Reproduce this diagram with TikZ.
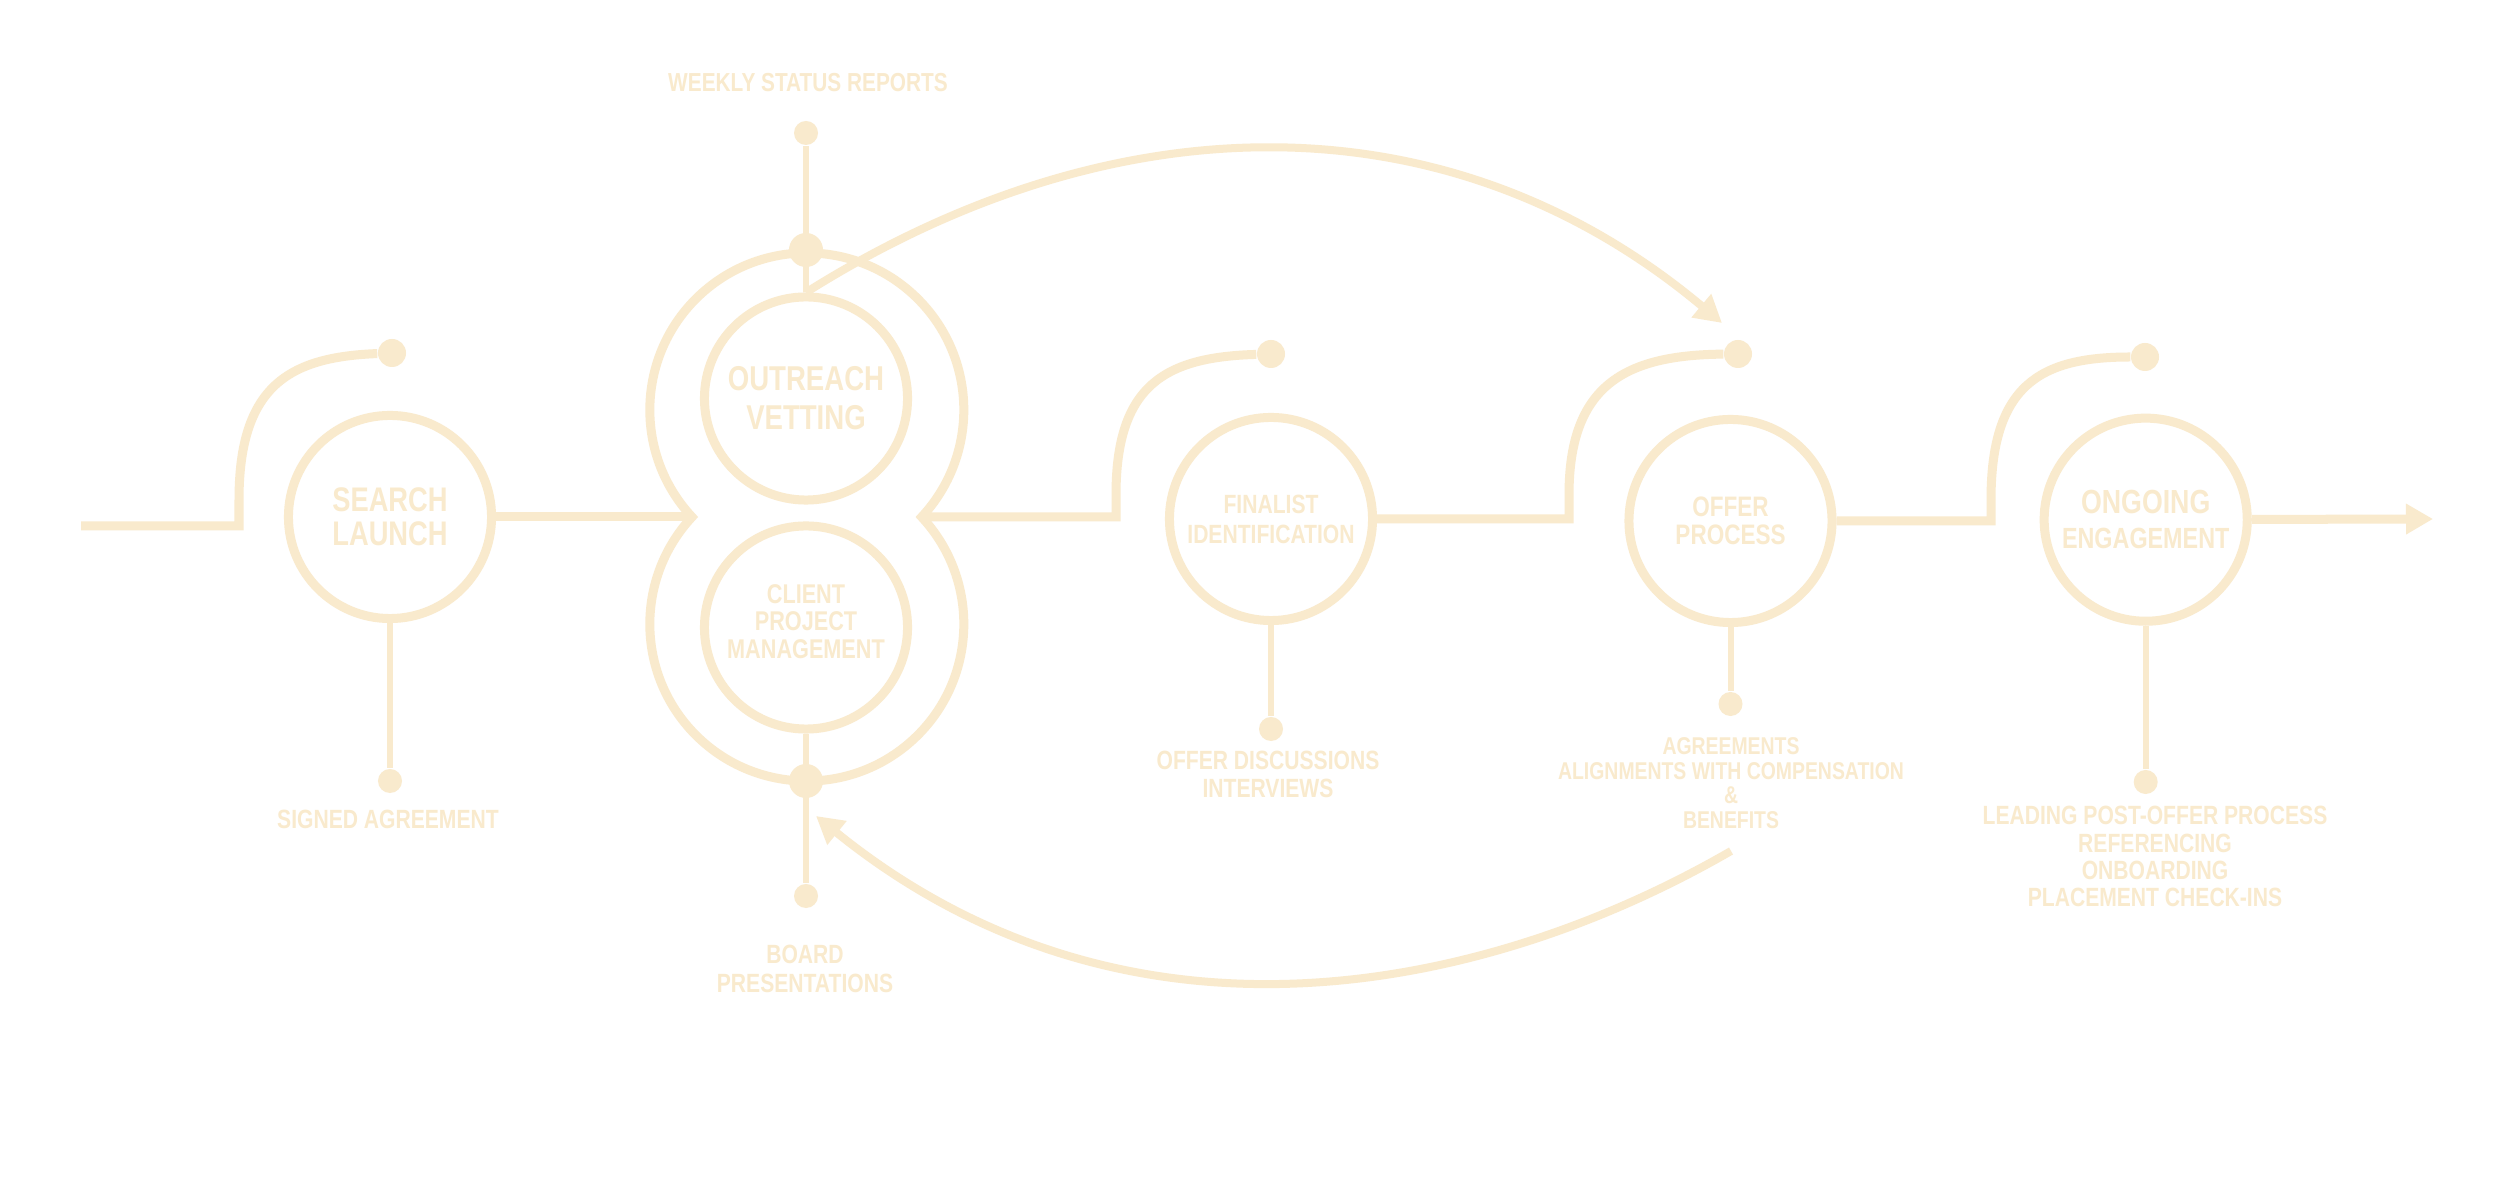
\documentclass[tikz,border=0pt]{standalone}
\usepackage{fontspec}
\newfontfamily\narrowsans[FakeStretch=0.8]{Liberation Sans}
\usepackage{tikz}
\usetikzlibrary{positioning,arrows.meta}
\definecolor{cream}{RGB}{249,234,205}

\begin{document}
\begin{tikzpicture}[x=0.01cm,y=0.01cm,font=\narrowsans\bfseries,text=cream,
    flow/.style={draw=cream,line width=0.09cm},
    stemline/.style={draw=cream,line width=0.06cm},
    loopline/.style={draw=cream,line width=0.08cm,-{Triangle[length=0.27cm,width=0.29cm]}},
    stage/.style={circle,draw=cream,line width=0.09cm,minimum size=2.03cm,inner sep=0pt,align=center},
    hookdot/.style={circle,fill=cream,minimum size=0.28cm,inner sep=0pt},
    tipdot/.style={circle,fill=cream,minimum size=0.24cm,inner sep=0pt},
    joint/.style={circle,fill=cream,minimum size=0.34cm,inner sep=0pt},
    note/.style={align=center,inner sep=0pt},
    fs/.style 2 args={font={\narrowsans\bfseries\fontsize{#1}{#2}\selectfont}}]
    \fill[white] (0,0) rectangle (2496,-1195);
    \node[stage,fs={9.7}{9.7}]  (launch)   at (390,-517)   {SEARCH\\ LAUNCH};
    \node[stage,fs={9.8}{11.1}] (outreach) at (806,-398.5) {OUTREACH\\ VETTING};
    \node[stage,fs={7.7}{7.7},text depth=0.12cm] (client) at (806,-627.5) {CLIENT\\ PROJECT\\ MANAGEMENT};
    \node[stage,fs={7.5}{8.5}]  (finalist) at (1271,-519)  {FINALIST\\ IDENTIFICATION};
    \node[stage,fs={8}{8}]      (offer)    at (1730.5,-521) {OFFER\\ PROCESS};
    \node[stage,fs={8.3}{10}]   (ongoing)  at (2145.7,-519.7) {{\fontsize{9.5}{10}\selectfont ONGOING}\\ ENGAGEMENT};
    \coordinate (entry) at (81,-526);
    \coordinate (wl) at (692,-517);
    \coordinate (wr) at (922,-517);
    \coordinate (exit) at (2433,-519);
    \coordinate (ta) at (1722,-323);
    \coordinate (ba) at (1731,-851);
    \coordinate (bt) at (816,-816);
    \node[hookdot] (d1) at (392,-353) {};
    \node[hookdot] (d2) at (1271,-354) {};
    \node[hookdot] (d3) at (1738,-354) {};
    \node[hookdot] (d4) at (2145,-357) {};
    \node[tipdot] (s1) at (390,-781) {};
    \node[tipdot] (s2) at (806,-133) {};
    \node[tipdot] (s3) at (806,-896) {};
    \node[tipdot] (s4) at (1271,-729) {};
    \node[tipdot] (s5) at (1730.5,-704) {};
    \node[tipdot] (s6) at (2145.7,-782) {};
    \node[joint] (j1) at (806,-250) {};
    \node[joint] (j2) at (806,-781) {};
    \draw[flow] (wl) arc[start angle=223,end angle=-43,radius=157] arc[start angle=43,end angle=-223,radius=157] -- cycle;
    \draw[stemline] (launch) -- (s1);
    \draw[stemline] (outreach) -- (s2);
    \draw[stemline] (client) -- (s3);
    \draw[stemline] (finalist) -- (s4);
    \draw[stemline] (offer) -- (s5);
    \draw[stemline] (ongoing) -- (s6);
    \draw[flow] (entry) -- (239,-526) -- (239,-500) .. controls (239,-385) and (290,-357) .. (d1);
    \draw[flow] (launch) -- (wl);
    \draw[flow] (wr) -- (1116,-517) -- (1116,-495) .. controls (1116,-385) and (1165,-357) .. (d2);
    \draw[flow] (finalist) -- (1569,-519) -- (1569,-495) .. controls (1569,-385) and (1625,-355) .. (d3);
    \draw[flow] (offer) -- (1991,-521) -- (1991,-500) .. controls (1991,-385) and (2040,-357) .. (d4);
    \draw[flow,-{Triangle[length=0.27cm,width=0.29cm]}] (ongoing) -- (exit);
    \draw[loopline] (outreach.north) .. controls (1110,-101) and (1446,-92) .. (ta);
    \draw[loopline] (ba) .. controls (1489,-991) and (1130,-1070) .. (bt);
    \node[note,fs={7.4}{8}]   (weekly) at (808,-82.5) {WEEKLY STATUS REPORTS};
    \node[note,fs={7.5}{8}]   (signed) at (388,-819) {SIGNED AGREEMENT};
    \node[note,fs={7.5}{8.25}] (board) at (805,-968.5) {BOARD\\ PRESENTATIONS};
    \node[note,fs={7.5}{8}]   (talks)  at (1268,-774) {OFFER DISCUSSIONS\\ INTERVIEWS};
    \node[note,fs={6.9}{7}]   (terms)  at (1731,-783) {AGREEMENTS\\ ALIGNMENTS WITH COMPENSATION\\ \&\\ BENEFITS};
    \node[note,fs={7.5}{7.7}] (after)  at (2155,-856.5) {LEADING POST-OFFER PROCESS\\ REFERENCING\\ ONBOARDING\\ PLACEMENT CHECK-INS};
\end{tikzpicture}
\end{document}
